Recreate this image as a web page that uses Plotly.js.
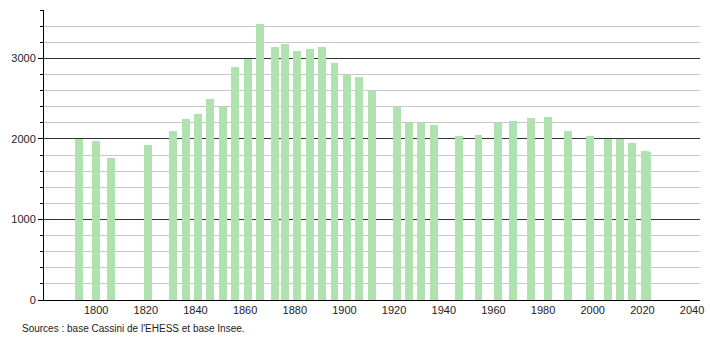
<!DOCTYPE html>
<html>
<head>
<meta charset="utf-8">
<script src="https://cdn.plot.ly/plotly-3.0.1.min.js"></script>
<style>html,body{margin:0;padding:0;background:#fff;}#chart{width:710px;height:340px;}</style>
</head>
<body>
<div id="chart"></div>
<script>
var years = [1793, 1800, 1806, 1821, 1831, 1836, 1841, 1846, 1851, 1856, 1861, 1866, 1872, 1876, 1881, 1886, 1891, 1896, 1901, 1906, 1911, 1921, 1926, 1931, 1936, 1946, 1954, 1962, 1968, 1975, 1982, 1990, 1999, 2006, 2011, 2016, 2021, 2022];
var population = [2004, 1979, 1768, 1930, 2104, 2253, 2315, 2498, 2399, 2888, 2992, 3423, 3145, 3174, 3091, 3112, 3141, 2946, 2792, 2767, 2593, 2399, 2199, 2199, 2170, 2033, 2046, 2195, 2228, 2257, 2266, 2095, 2033, 2000, 1995, 1954, 1850, 1838];
var xTickVals = [1800, 1820, 1840, 1860, 1880, 1900, 1920, 1940, 1960, 1980, 2000, 2020, 2040];
var yTickVals = [0, 1000, 2000, 3000];
var sourceText = "Sources : base Cassini de l'EHESS et base Insee.";

var trace = {
  type: 'bar',
  x: years,
  y: population,
  width: 3.2,
  marker: {color: '#b0e2b0', line: {width: 0}},
  hoverinfo: 'x+y'
};

var layout = {
  width: 710, height: 340,
  margin: {l: 44, r: 10, t: 10, b: 40},
  paper_bgcolor: '#fff', plot_bgcolor: '#fff',
  font: {family: 'Liberation Sans, Arial, sans-serif', size: 11, color: '#222'},
  showlegend: false,
  bargap: 0,
  xaxis: {
    range: [1779, 2043.2],
    tickvals: xTickVals,
    ticktext: xTickVals.map(String),
    showgrid: false,
    zeroline: false,
    showline: true, linecolor: '#000', linewidth: 1,
    ticks: '', ticklen: 0,
    tickfont: {size: 11, color: '#222'},
    fixedrange: true
  },
  yaxis: {
    range: [0, 3600],
    tickvals: yTickVals,
    ticktext: yTickVals.map(String),
    showgrid: true, gridcolor: '#333', gridwidth: 1,
    zeroline: false,
    showline: true, linecolor: '#000', linewidth: 1,
    ticks: 'outside', ticklen: 5, tickcolor: '#000',
    tickfont: {size: 11, color: '#222'},
    minor: {dtick: 200, showgrid: true, gridcolor: '#c8c8c8', gridwidth: 1, ticks: 'outside', ticklen: 3, tickcolor: '#000'},
    fixedrange: true
  },
  annotations: [{
    text: sourceText,
    xref: 'paper', yref: 'paper',
    x: -0.036, y: -0.097,
    xanchor: 'left', yanchor: 'middle',
    showarrow: false,
    font: {size: 10, color: '#222'}
  }]
};

Plotly.newPlot('chart', [trace], layout, {displayModeBar: false, staticPlot: true});
</script>
</body>
</html>
